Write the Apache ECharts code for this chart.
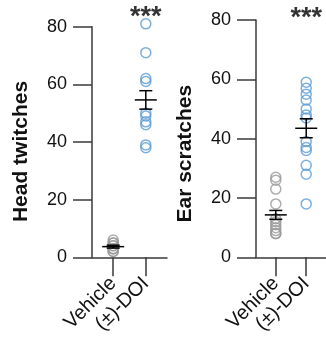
<!DOCTYPE html>
<html><head><meta charset="utf-8">
<script src="https://cdn.jsdelivr.net/npm/echarts@6/dist/echarts.min.js"></script>
<style>html,body{margin:0;padding:0;background:#fff}#c{width:326px;height:344px}</style>
</head><body><div id="c"></div>
<script>
const categories = ['Vehicle', '(±)-DOI'];
const yTicks = [0, 20, 40, 60, 80];
const headVehicle = [6, 5, 5, 4, 4, 3, 3, 3, 2, 2];
const headDOI = [81, 71, 62, 61, 50, 49, 47, 46, 39, 38];
const headMean = [3.7, 54.6];
const headSem = [0.5, 3.2];
const earVehicle = [27, 26, 23, 18, 13, 12, 11, 10, 9, 8, 8];
const earDOI = [59, 57, 55, 53, 50, 48, 47, 39, 37, 36, 31, 28, 18];
const earMean = [14.3, 43.5];
const earSem = [1.5, 3.2];
const sigLabel = '***';
const sigY = [83.3, 80.5];

const FONT = 'Liberation Sans';
const AX = '#3a3a3a';
const GRAY = '#9a9a9a';
const BLUE = '#5b9bd5';

function xAxis(gi) {
  return {
    type: 'value', gridIndex: gi, min: -0.65, max: 1.65,
    axisLine: {show: true, onZero: false, lineStyle: {color: AX, width: 1.5}},
    axisTick: {show: true, customValues: [0, 1], length: 19, lineStyle: {color: AX, width: 1.5}},
    axisLabel: {show: true, customValues: [0, 1], rotate: 45, margin: 23,
      formatter: v => categories[Math.round(v)], fontFamily: FONT, fontSize: 20, color: '#111'},
    splitLine: {show: false}
  };
}
function yAxis(gi, name, pad) {
  return {
    type: 'value', gridIndex: gi, min: yTicks[0], max: yTicks[yTicks.length - 1], interval: 20,
    name: name, nameLocation: 'middle', nameGap: 60, nameRotate: 90,
    nameTextStyle: {fontFamily: FONT, fontSize: 21, fontWeight: 'bold', color: '#111', padding: [0, pad, 0, 0]},
    axisLine: {show: true, onZero: false, lineStyle: {color: AX, width: 1.5}},
    axisTick: {show: true, length: 19, lineStyle: {color: AX, width: 1.5}},
    axisLabel: {fontFamily: FONT, fontSize: 18, color: '#111', margin: 25},
    splitLine: {show: false}
  };
}
function pts(vals, x) { return vals.map(v => [x, v]); }
function scatter(gi, vals, x, color) {
  return {type: 'scatter', xAxisIndex: gi, yAxisIndex: gi, data: pts(vals, x), clip: false,
    symbol: 'circle', symbolSize: 10,
    itemStyle: {color: 'rgba(0,0,0,0)', borderColor: color, borderWidth: 1.5}, z: 2};
}
function errBars(gi, mean, sem) {
  return {type: 'custom', xAxisIndex: gi, yAxisIndex: gi, z: 5, clip: false,
    data: mean.map((m, i) => [i, m, sem[i]]),
    renderItem: function (params, api) {
      const x = api.value(0), m = api.value(1), s = api.value(2);
      const pm = api.coord([x, m]), pt = api.coord([x, m + s]), pb = api.coord([x, m - s]);
      const st = {stroke: '#000', lineWidth: 1.5};
      return {type: 'group', children: [
        {type: 'line', shape: {x1: pm[0] - 11, y1: pm[1], x2: pm[0] + 11, y2: pm[1]}, style: st},
        {type: 'line', shape: {x1: pt[0], y1: pt[1], x2: pb[0], y2: pb[1]}, style: st},
        {type: 'line', shape: {x1: pt[0] - 6.5, y1: pt[1], x2: pt[0] + 6.5, y2: pt[1]}, style: st},
        {type: 'line', shape: {x1: pb[0] - 6.5, y1: pb[1], x2: pb[0] + 6.5, y2: pb[1]}, style: st}
      ]};
    }};
}
function sig(gi, y) {
  return {type: 'scatter', xAxisIndex: gi, yAxisIndex: gi, data: [[1, y]], symbolSize: 1, clip: false,
    itemStyle: {color: 'rgba(0,0,0,0)'}, silent: true,
    label: {show: true, position: 'inside', formatter: sigLabel, fontFamily: FONT,
      fontSize: 27, fontWeight: 'bold', color: '#000'}};
}

const chart = echarts.init(document.getElementById('c'), null, {renderer: 'canvas'});
chart.setOption({
  animation: false,
  grid: [
    {left: 92, width: 75, top: 26.7, bottom: 86.7, containLabel: false},
    {left: 256, width: 75, top: 20, bottom: 86.7, containLabel: false}
  ],
  xAxis: [xAxis(0), xAxis(1)],
  yAxis: [yAxis(0, 'Head twitches', 19), yAxis(1, 'Ear scratches', 30)],
  series: [
    scatter(0, headVehicle, 0, GRAY), scatter(0, headDOI, 1, BLUE), errBars(0, headMean, headSem), sig(0, sigY[0]),
    scatter(1, earVehicle, 0, GRAY), scatter(1, earDOI, 1, BLUE), errBars(1, earMean, earSem), sig(1, sigY[1])
  ]
});
</script></body></html>
